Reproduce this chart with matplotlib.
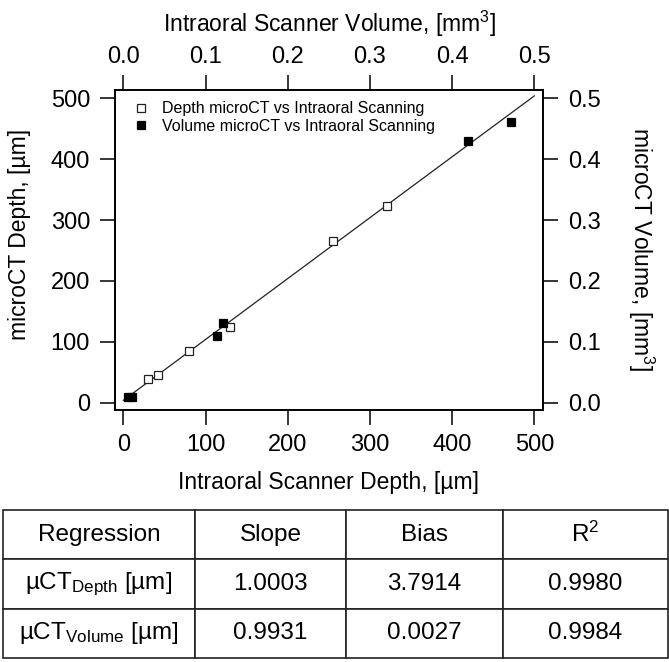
import matplotlib
matplotlib.use("Agg")
import matplotlib.pyplot as plt
import numpy as np
from matplotlib.ticker import FormatStrFormatter, MultipleLocator
from matplotlib.lines import Line2D

plt.rcParams['font.family'] = ['Liberation Sans', 'DejaVu Sans']
plt.rcParams['mathtext.fontset'] = 'custom'
plt.rcParams['mathtext.rm'] = 'Liberation Sans'
plt.rcParams['mathtext.it'] = 'Liberation Sans:italic'

# ---- data ----
depth_scanner = [30.4, 42.6, 80.3, 129.8, 254.7, 320.3]      # um
depth_microct = [38.3, 45.5, 84.9, 124.9, 265.6, 323.1]      # um
volume_scanner = [0.0061, 0.0109, 0.1143, 0.1208, 0.4193, 0.4716]  # mm^3
volume_microct = [0.0099, 0.0099, 0.1101, 0.1303, 0.4304, 0.4611]  # mm^3

reg_slope_depth = 1.0003
reg_bias_depth = 3.7914

table_header = ["Regression", "Slope", "Bias", "R$^2$"]
table_rows = [
    ["µCT$_{\\mathrm{Depth}}$ [µm]", "1.0003", "3.7914", "0.9980"],
    ["µCT$_{\\mathrm{Volume}}$ [µm]", "0.9931", "0.0027", "0.9984"],
]

W, H = 669, 662
fig = plt.figure(figsize=(W / 100, H / 100), dpi=100)

left, right, top, bottom = 115, 542.7, 90, 410
pos = [left / W, 1 - bottom / H, (right - left) / W, (bottom - top) / H]

FS_TICK = 17
FS_LAB = 16.5
FS_TAB = 17.5
TL = 11
TW = 1.1

ax = fig.add_axes(pos)
ax.set_xlim(-10.1, 510.2)
ax.set_ylim(-12, 513.6)
ax.xaxis.set_major_locator(MultipleLocator(100))
ax.yaxis.set_major_locator(MultipleLocator(100))
ax.tick_params(direction='out', length=TL, width=TW, labelsize=FS_TICK, pad=7,
               top=False, right=False)
ax.tick_params(axis='x', pad=6)
for s in ax.spines.values():
    s.set_linewidth(1.4)

# regression line
xl = np.array([0, 500])
ax.plot(xl, reg_slope_depth * xl + reg_bias_depth, color='#222222', lw=0.9, zorder=2)

ax.plot(depth_scanner, depth_microct, linestyle='none', marker='s', ms=5.5,
        mfc='white', mec='#222222', mew=0.9, zorder=3)

# secondary axes for volume
ax2 = fig.add_axes(pos, frameon=False)
ax2.set_xlim(-10.1 / 1000, 510.2 / 1000)
ax2.set_ylim(-12 / 1000, 513.6 / 1000)
ax2.xaxis.tick_top()
ax2.yaxis.tick_right()
ax2.xaxis.set_major_locator(MultipleLocator(0.1))
ax2.yaxis.set_major_locator(MultipleLocator(0.1))
ax2.xaxis.set_major_formatter(FormatStrFormatter('%.1f'))
ax2.yaxis.set_major_formatter(FormatStrFormatter('%.1f'))
ax2.tick_params(direction='out', length=TL, width=TW, labelsize=FS_TICK, pad=7)
ax2.tick_params(axis='x', pad=5)
ax2.plot(volume_scanner, volume_microct, linestyle='none', marker='s', ms=5.5,
         mfc='black', mec='black', mew=0.9, zorder=3)

# legend
h1 = Line2D([], [], linestyle='none', marker='s', ms=5.5, mfc='white', mec='#222222', mew=0.9)
h2 = Line2D([], [], linestyle='none', marker='s', ms=5.5, mfc='black', mec='black', mew=0.9)
ax2.legend([h1, h2], ["Depth microCT vs Intraoral Scanning",
                      "Volume microCT vs Intraoral Scanning"],
           loc='upper left', frameon=False, fontsize=11.5, handlelength=0.8,
           handletextpad=0.9, labelspacing=0.15, borderaxespad=0.3,
           bbox_to_anchor=(0.02, 1.0))

# axis labels
fig.text(329 / W, 1 - 482 / H, "Intraoral Scanner Depth, [µm]", ha='center', va='center', fontsize=FS_LAB)
fig.text(330 / W, 1 - 24 / H, "Intraoral Scanner Volume, [mm$^3$]", ha='center', va='center', fontsize=FS_LAB)
fig.text(20 / W, 1 - 234 / H, "microCT Depth, [µm]", ha='center', va='center', fontsize=FS_LAB, rotation=90)
fig.text(641 / W, 1 - 249 / H, "microCT Volume, [mm$^3$]", ha='center', va='center', fontsize=FS_LAB, rotation=270)

# table
tx0, tx1, ty0, ty1 = 3, 668, 510, 658
tax = fig.add_axes([tx0 / W, 1 - ty1 / H, (tx1 - tx0) / W, (ty1 - ty0) / H])
tax.axis('off')
colw = np.array([192, 151, 157, 165], dtype=float)
colw = colw / colw.sum()
tbl = tax.table(cellText=table_rows, colLabels=table_header, colWidths=colw,
                cellLoc='center', bbox=[0, 0, 1, 1])
tbl.auto_set_font_size(False)
for (r, c), cell in tbl.get_celld().items():
    cell.set_linewidth(1.2)
    cell.set_edgecolor('#222222')
    cell.get_text().set_fontsize(FS_TAB)

fig.savefig("out.png", dpi=100)
